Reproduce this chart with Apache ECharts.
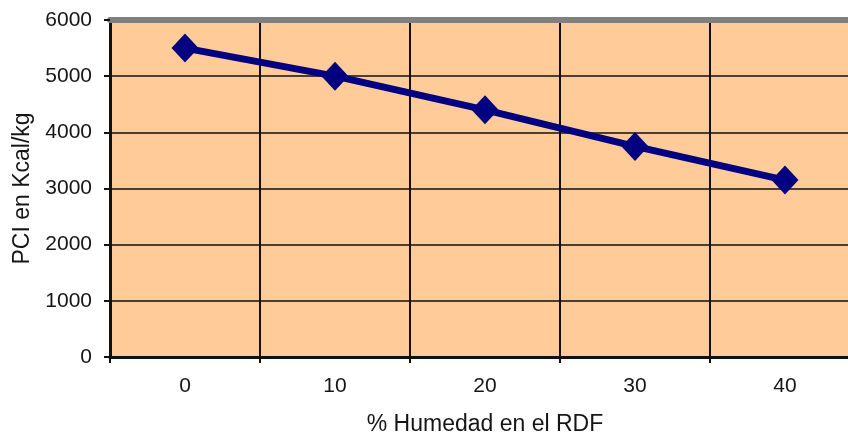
<!DOCTYPE html>
<html>
<head>
<meta charset="utf-8">
<script src="https://cdn.jsdelivr.net/npm/echarts@6/dist/echarts.min.js"></script>
<style>
  html, body { margin: 0; padding: 0; background: #ffffff; }
  #chart { width: 848px; height: 437px; }
</style>
</head>
<body>
<div id="chart"></div>
<script>
// Moisture content of the RDF (%) and its lower heating value
const humedad = ['0', '10', '20', '30', '40'];
const pci = [5500, 5000, 4400, 3750, 3150];
const yTicks = [0, 1000, 2000, 3000, 4000, 5000, 6000];

const font = 'Liberation Sans, Arial, sans-serif';
const textColor = '#151515';
const chart = echarts.init(document.getElementById('chart'));

chart.setOption({
  backgroundColor: '#ffffff',
  animation: false,
  grid: {
    left: 110, top: 20, width: 750, height: 337,
    outerBoundsMode: 'none',
    containLabel: false,
    show: true, backgroundColor: '#FFCC99', borderWidth: 0
  },
  xAxis: [{
    type: 'category',
    data: humedad,
    boundaryGap: true,
    name: '% Humedad en el RDF',
    nameLocation: 'middle',
    nameGap: 56,
    nameTextStyle: { fontFamily: font, fontSize: 23, color: textColor },
    axisLine: { lineStyle: { color: '#111', width: 3 } },
    axisTick: { show: true, length: 6, lineStyle: { color: '#111', width: 2 } },
    axisLabel: { margin: 19, fontFamily: font, fontSize: 21, color: textColor },
    splitLine: { show: true, lineStyle: { color: '#111', width: 2 } }
  }, {
    // grey frame along the top of the plot area
    type: 'category',
    data: humedad,
    position: 'top',
    axisLine: { lineStyle: { color: '#808080', width: 6 } },
    axisTick: { show: false },
    axisLabel: { show: false },
    splitLine: { show: false }
  }],
  yAxis: {
    type: 'value',
    min: yTicks[0],
    max: yTicks[yTicks.length - 1],
    interval: 1000,
    name: 'PCI en Kcal/kg',
    nameLocation: 'middle',
    nameGap: 76,
    nameTextStyle: { fontFamily: font, fontSize: 23, color: textColor },
    axisLine: { show: true, lineStyle: { color: '#111', width: 3 } },
    axisTick: { show: true, length: 6, lineStyle: { color: '#111', width: 2 } },
    axisLabel: {
      margin: 18, fontFamily: font, fontSize: 21, color: textColor,
      formatter: (v) => String(v)
    },
    splitLine: { show: true, lineStyle: { color: '#111', width: 1.7 } }
  },
  series: [{
    type: 'line',
    data: pci,
    xAxisIndex: 0,
    symbol: 'diamond',
    symbolSize: [27, 29],
    lineStyle: { color: '#000080', width: 7 },
    itemStyle: { color: '#000080' },
    z: 5
  }]
});
</script>
</body>
</html>
